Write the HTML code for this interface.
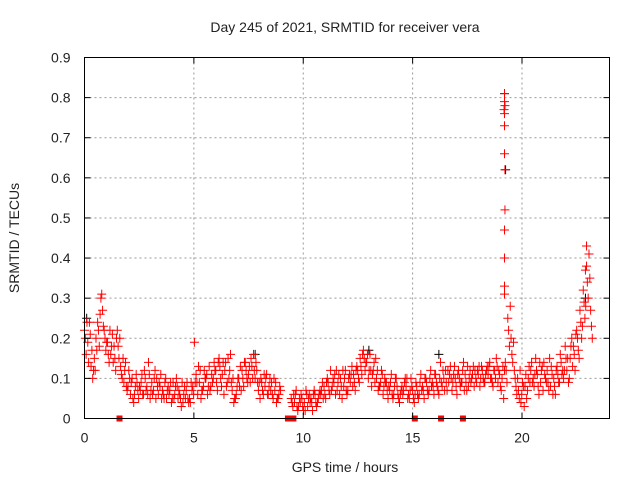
<!DOCTYPE html>
<html><head><meta charset="utf-8"><style>
body{margin:0;background:#fff;}
svg text{font-family:"Liberation Sans",sans-serif;font-size:14px;fill:#222;}
</style></head><body>
<svg id="c" width="640" height="480">
<text x="345" y="32" text-anchor="middle">Day 245 of 2021, SRMTID for receiver vera</text>
<text x="345" y="472" text-anchor="middle">GPS time / hours</text>
<text transform="translate(19,238) rotate(-90)" text-anchor="middle">SRMTID / TECUs</text>
<g id="grid"></g><g id="marks"></g><g id="axes"></g>
</svg>
<script>
const times=[0,0.15,0.3,0.45,0.6,0.75,0.9,1.05,1.2,1.35,1.5,1.65,1.8,1.95,2.1,2.25,2.4,2.55,2.7,2.85,3,3.15,3.3,3.45,3.6,3.75,3.9,4.05,4.2,4.35,4.5,4.65,4.8,4.95,5.1,5.25,5.4,5.55,5.7,5.85,6,6.15,6.3,6.45,6.6,6.75,6.9,7.05,7.2,7.35,7.5,7.65,7.8,7.95,8.1,8.25,8.4,8.55,8.7,8.85,9.45,9.6,9.75,9.9,10.05,10.2,10.35,10.5,10.65,10.8,10.95,11.1,11.25,11.4,11.55,11.7,11.85,12,12.15,12.3,12.45,12.6,12.75,12.9,13.05,13.2,13.35,13.5,13.65,13.8,13.95,14.1,14.25,14.4,14.55,14.7,14.85,15,15.15,15.3,15.45,15.6,15.75,15.9,16.05,16.2,16.35,16.5,16.65,16.8,16.95,17.1,17.25,17.4,17.55,17.7,17.85,18,18.15,18.3,18.45,18.6,18.75,18.9,19.05,19.2,19.35,19.5,19.65,19.8,19.95,20.1,20.25,20.4,20.55,20.7,20.85,21,21.15,21.3,21.45,21.6,21.75,21.9,22.05,22.2,22.35,22.5,22.65,22.8,22.95,23.1];
const valuesA=[.22,.19,.13,.15,.24,.30,.22,.19,.16,.18,.22,.13,.09,.07,.06,.04,.09,.07,.06,.08,.05,.07,.10,.08,.06,.05,.07,.09,.10,.06,.04,.07,.05,.08,.11,.09,.07,.10,.13,.09,.12,.15,.11,.14,.10,.07,.05,.10,.12,.14,.11,.13,.10,.07,.09,.08,.06,.09,.07,.05,.05,.04,.02,.06,.04,.03,.05,.07,.04,.06,.08,.10,.12,.09,.07,.10,.08,.06,.09,.11,.13,.15,.17,.14,.16,.12,.10,.08,.06,.09,.07,.05,.10,.04,.06,.08,.05,.07,.09,.06,.08,.10,.07,.09,.11,.06,.08,.12,.09,.07,.10,.12,.09,.11,.08,.10,.12,.11,.13,.09,.11,.10,.12,.09,.07,.12,.25,.20,.12,.10,.04,.03,.07,.12,.08,.11,.09,.14,.12,.08,.10,.13,.16,.10,.12,.15,.18,.22,.27,.32,.38,.35];
const valuesB=[.16,.24,.10,.20,.18,.27,.17,.14,.21,.12,.15,.10,.14,.12,.10,.08,.05,.11,.10,.14,.09,.12,.06,.05,.09,.08,.04,.06,.05,.03,.08,.05,.09,.19,.06,.05,.12,.06,.08,.14,.07,.10,.06,.09,.16,.04,.08,.13,.08,.10,.09,.16,.12,.05,.06,.11,.10,.05,.04,.08,.03,.07,.05,.03,.07,.06,.02,.04,.06,.09,.05,.07,.08,.06,.11,.05,.12,.10,.13,.07,.10,.11,.12,.10,.08,.09,.07,.12,.10,.05,.11,.08,.06,.07,.09,.05,.10,.04,.06,.11,.05,.07,.12,.06,.08,.14,.10,.07,.13,.11,.06,.08,.14,.07,.12,.13,.09,.08,.10,.12,.14,.08,.15,.11,.13,.12,.18,.14,.08,.05,.09,.11,.13,.09,.15,.06,.13,.10,.07,.11,.06,.09,.11,.18,.09,.20,.12,.17,.20,.25,.30,.23];
const valuesC=[.20,.14,.17,.12,.22,.31,.20,.16,.18,.15,.18,.11,.12,.08,.09,.06,.07,.09,.12,.06,.07,.10,.08,.11,.05,.07,.09,.05,.08,.05,.06,.09,.04,.06,.09,.12,.08,.11,.07,.10,.09,.13,.14,.08,.12,.10,.06,.08,.10,.12,.13,.10,.14,.09,.07,.10,.08,.06,.09,.06,.04,.06,.03,.05,.02,.05,.04,.06,.05,.07,.06,.09,.07,.11,.09,.08,.10,.07,.11,.09,.12,.13,.15,.16,.12,.14,.12,.09,.08,.07,.09,.06,.08,.06,.07,.10,.07,.05,.08,.09,.07,.09,.10,.08,.09,.10,.12,.09,.11,.09,.08,.10,.12,.09,.10,.11,.10,.13,.12,.11,.13,.09,.10,.12,.10,.14,.22,.16,.10,.07,.06,.08,.10,.14,.11,.08,.12,.11,.09,.13,.08,.11,.14,.12,.15,.18,.16,.20,.24,.29,.34,.27];
const valuesD=[.24,.21,.12,.17,.26,.23,.19,.22,.14,.20,.20,.15,.08,.10,.05,.11,.08,.06,.07,.11,.06,.05,.09,.07,.10,.06,.05,.08,.07,.09,.05,.04,.07,.09,.13,.07,.10,.08,.11,.12,.14,.08,.12,.15,.09,.05,.10,.07,.14,.09,.15,.12,.09,.10,.11,.06,.07,.10,.05,.07,.06,.03,.04,.02,.06,.04,.06,.03,.07,.05,.09,.06,.10,.12,.06,.12,.07,.11,.08,.12,.09,.16,.14,.12,.11,.15,.08,.11,.09,.08,.06,.10,.05,.08,.10,.06,.08,.06,.05,.07,.10,.06,.08,.11,.07,.09,.07,.12,.10,.13,.11,.09,.07,.13,.09,.08,.12,.10,.09,.13,.10,.12,.13,.08,.05,.09,.28,.19,.06,.12,.08,.05,.09,.10,.12,.14,.07,.09,.15,.06,.12,.09,.12,.15,.10,.13,.21,.15,.23,.28,.41,.20];
const spikeTimes=[19.2,19.2,19.22,19.18,19.2,19.2,19.2,19.22,19.22,19.2,19.2,19.2,19.2,22.95,22.9];
const spikeValues=[.81,.79,.78,.77,.76,.73,.66,.62,.52,.47,.40,.33,.31,.43,.37];
const zeroTimes=[1.6,9.3,9.55,15.1,16.3,17.3];
const blackTimes=[0.1,19.2,19.25,13.0,16.2,7.8,22.9];
const blackValues=[.25,.81,.62,.17,.16,.16,.30];
const xTicks=[0,5,10,15,20];
const yTicks=[0,0.1,0.2,0.3,0.4,0.5,0.6,0.7,0.8,0.9];

const L=84.5,R=609.5,T=57.5,B=418.5,XMAX=24,YMAX=0.9;
const xs=v=>L+(R-L)*v/XMAX, ys=v=>B-(B-T)*v/YMAX;
const NS='http://www.w3.org/2000/svg';
function mk(tag,attrs,parent){const e=document.createElementNS(NS,tag);for(const k in attrs)e.setAttribute(k,attrs[k]);parent.appendChild(e);return e;}
const grid=document.getElementById('grid'),marks=document.getElementById('marks'),axes=document.getElementById('axes');
xTicks.forEach(t=>{
  if(t>0){const g=mk('line',{x1:xs(t),x2:xs(t),y1:T,y2:B,stroke:'#999','stroke-dasharray':'2,3'},grid);
  
  }
  mk('line',{x1:xs(t),x2:xs(t),y1:B,y2:B-6,stroke:'#000'},axes);
  mk('line',{x1:xs(t),x2:xs(t),y1:T,y2:T+6,stroke:'#000'},axes);
  const tx=mk('text',{x:xs(t),y:B+24,'text-anchor':'middle'},axes);tx.textContent=t;
  
  
});
yTicks.forEach(t=>{
  if(t>0&&t<0.9){const g=mk('line',{x1:L,x2:R,y1:ys(t),y2:ys(t),stroke:'#999','stroke-dasharray':'2,3'},grid);
  
  }
  mk('line',{x1:L,x2:L+6,y1:ys(t),y2:ys(t),stroke:'#000'},axes);
  mk('line',{x1:R,x2:R-6,y1:ys(t),y2:ys(t),stroke:'#000'},axes);
  const tx=mk('text',{x:L-14,y:ys(t)+5,'text-anchor':'end'},axes);tx.textContent=t===0?'0':String(t);
  
  
});
const frame=mk('rect',{x:L,y:T,width:R-L,height:B-T,fill:'none',stroke:'#000'},axes);


function plus(t,v,col){
  const x=xs(t),y=ys(v);
  const p=mk('path',{d:`M${x-4.5} ${y}H${x+4.5}M${x} ${y-4.5}V${y+4.5}`,stroke:col,'stroke-width':1,fill:'none'},marks);
  
  
}
blackTimes.forEach((t,i)=>plus(t,blackValues[i],'#000'));
times.forEach((t,i)=>{
  plus(t,valuesA[i],'#f00');
  plus(t+0.0375,valuesC[i],'#f00');
  plus(t+0.075,valuesB[i],'#f00');
  plus(t+0.1125,valuesD[i],'#f00');
});
spikeTimes.forEach((t,i)=>plus(t,spikeValues[i],'#f00'));
zeroTimes.forEach(t=>{
  const r=mk('rect',{x:xs(t)-3,y:ys(0)-3,width:6,height:6,fill:'#f00'},marks);
  
  
});
</script>
</body></html>
